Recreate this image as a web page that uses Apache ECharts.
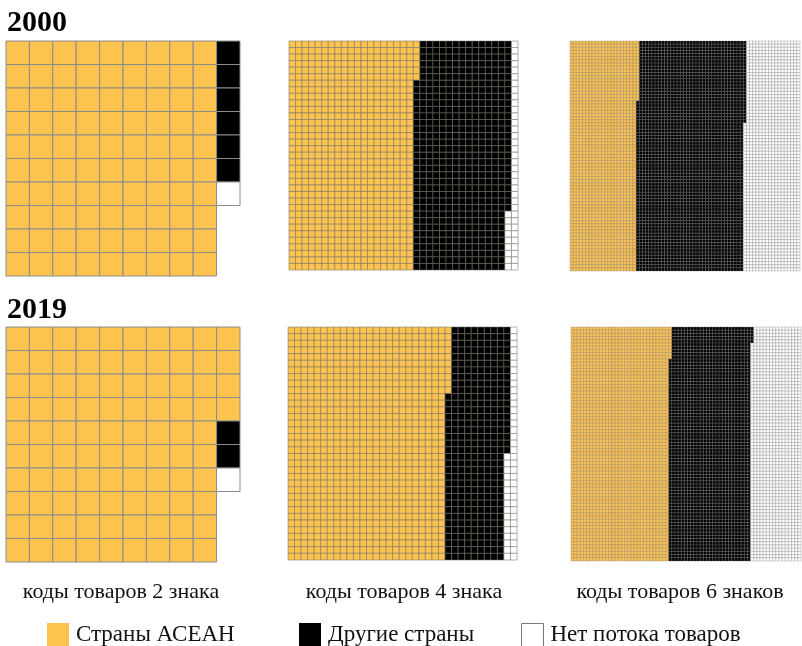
<!DOCTYPE html>
<html>
<head>
<meta charset="utf-8">
<script src="https://cdn.jsdelivr.net/npm/echarts@6/dist/echarts.min.js"></script>
<style>html,body{margin:0;padding:0;background:#fff}#c{width:802px;height:646px}</style>
</head>
<body>
<div id="c"></div>
<script>
// ---- data ----
const categories = ['Страны АСЕАН', 'Другие страны', 'Нет потока товаров'];
const years = ['2000', '2019'];
const codeLabels = ['коды товаров 2 знака', 'коды товаров 4 знака', 'коды товаров 6 знаков'];
const gridRows = [10, 35, 73];           // cells per column, for 2 / 4 / 6 digit codes
const gridCols = [10, 35, 73];
// counts per category [ASEAN, other, no flow] for 2 / 4 / 6 digit codes
const counts2000 = [[90, 6, 1], [671, 510, 44], [1552, 2489, 1288]];
const counts2019 = [[94, 2, 1], [850, 324, 51], [2273, 1893, 1163]];

// ---- styling / layout ----
const colors = ['#FDC34F', '#000000', '#FFFFFF'];
const borderStyles = [
  { stroke: '#8c8c8c', lineWidth: 1 },
  { stroke: 'rgba(115,110,100,0.75)', lineWidth: 0.7 },
  { stroke: 'rgba(120,115,110,0.6)', lineWidth: 0.5 }
];
const panelBoxes = [
  [{ left: 6, top: 41, width: 234, height: 235 }, { left: 289, top: 41, width: 229, height: 229 }, { left: 570, top: 41, width: 230, height: 230 }],
  [{ left: 6, top: 327, width: 234, height: 235 }, { left: 288, top: 327, width: 229, height: 233 }, { left: 571, top: 327, width: 230, height: 234 }]
];
const serif = '"Liberation Serif", "Times New Roman", serif';

const grids = [], xAxes = [], yAxes = [], series = [];
const allCounts = [counts2000, counts2019];
let gi = 0;
for (let r = 0; r < 2; r++) {
  for (let p = 0; p < 3; p++) {
    const rows = gridRows[p], cols = gridCols[p];
    grids.push(Object.assign({ containLabel: false }, panelBoxes[r][p]));
    xAxes.push({ type: 'category', gridIndex: gi, data: Array.from({ length: cols }, (_, i) => i), show: false });
    yAxes.push({ type: 'category', gridIndex: gi, inverse: true, data: Array.from({ length: rows }, (_, i) => i), show: false });
    const cnt = allCounts[r][p];
    let idx = 0;
    for (let c = 0; c < 3; c++) {
      const cells = [];
      for (let k = 0; k < cnt[c]; k++, idx++) {
        cells.push([Math.floor(idx / rows), idx % rows]);
      }
      const b = borderStyles[p];
      const fill = colors[c];
      series.push({
        type: 'custom',
        name: categories[c],
        xAxisIndex: gi,
        yAxisIndex: gi,
        color: fill,
        itemStyle: { color: fill },
        progressive: 0,
        silent: true,
        data: cells,
        renderItem: function (params, api) {
          const pt = api.coord([api.value(0), api.value(1)]);
          const sz = api.size([1, 1]);
          return {
            type: 'rect',
            shape: { x: pt[0] - sz[0] / 2, y: pt[1] - sz[1] / 2, width: sz[0], height: sz[1] },
            style: { fill: fill, stroke: b.stroke, lineWidth: b.lineWidth }
          };
        }
      });
    }
    gi++;
  }
}

const legendLefts = [47, 299, 521];
const legends = categories.map((name, i) => ({
  left: legendLefts[i],
  top: 623,
  padding: 0,
  icon: 'rect',
  itemWidth: 22,
  itemHeight: 23,
  itemGap: 10,
  selectedMode: false,
  textStyle: { fontFamily: serif, fontSize: 23, color: '#111', padding: [0, 0, 0, 2] },
  data: [{ name: name, itemStyle: i === 2 ? { color: '#fff', borderColor: '#7a7a7a', borderWidth: 1 } : { color: colors[i], borderWidth: 0 } }]
}));

const labelCenters = [121, 404, 680];
const graphics = [];
years.forEach((y, i) => {
  graphics.push({ type: 'text', x: 7, y: i === 0 ? 23 : 310, style: { text: y, font: 'bold 30px ' + serif, fill: '#000', align: 'left', verticalAlign: 'middle' } });
});
codeLabels.forEach((t, i) => {
  graphics.push({ type: 'text', x: labelCenters[i], y: 592, style: { text: t, font: '22px ' + serif, fill: '#111', align: 'center', verticalAlign: 'middle' } });
});

const chart = echarts.init(document.getElementById('c'), null, { renderer: 'canvas' });
chart.setOption({
  animation: false,
  backgroundColor: '#fff',
  grid: grids,
  xAxis: xAxes,
  yAxis: yAxes,
  legend: legends,
  graphic: graphics,
  series: series
});
</script>
</body>
</html>
